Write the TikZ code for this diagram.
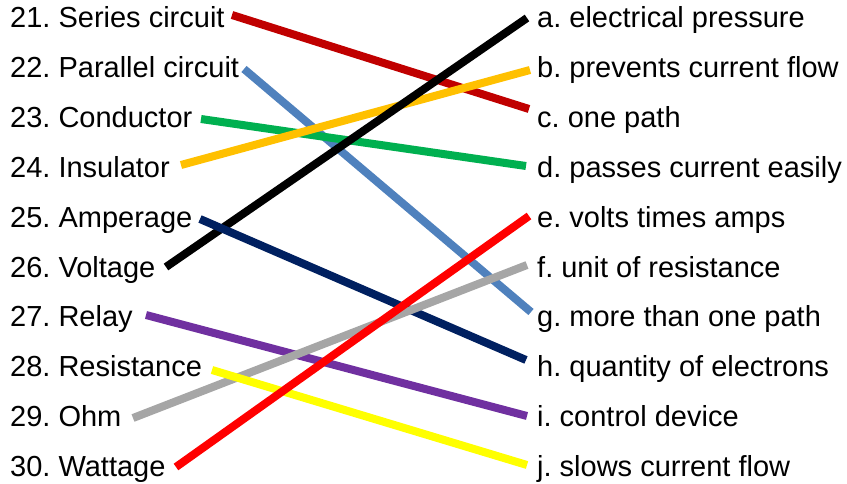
\documentclass[tikz,border=0pt]{standalone}
\usepackage{fontspec}
\setmainfont{Liberation Sans}
\frenchspacing
\begin{document}
\begin{tikzpicture}[x=1pt,y=-1pt,
  lbl/.style={anchor=base west,inner sep=0pt,font=\fontsize{29}{32}\selectfont},
  conn/.style={line width=8pt,line cap=butt}]
\definecolor{cDarkRed}{HTML}{C00000}
\definecolor{cBlue}{HTML}{4F81BD}
\definecolor{cGreen}{HTML}{00B050}
\definecolor{cOrange}{HTML}{FFC000}
\definecolor{cNavy}{HTML}{002060}
\definecolor{cPurple}{HTML}{7030A0}
\definecolor{cGray}{HTML}{A6A6A6}
\definecolor{cYellow}{HTML}{FFFF00}
\definecolor{cRed}{HTML}{FF0000}
\useasboundingbox (0,0) rectangle (847,484);
% left labels
\node[lbl] (l21) at (10,28) {21. Series circuit};
\node[lbl] (l22) at (10,77.8) {22. Parallel circuit};
\node[lbl] (l23) at (10,127.6) {23. Conductor};
\node[lbl] (l24) at (10,177.4) {24. Insulator};
\node[lbl] (l25) at (10,227.2) {25. Amperage};
\node[lbl] (l26) at (10,277) {26. Voltage};
\node[lbl] (l27) at (10,326.8) {27. Relay};
\node[lbl] (l28) at (10,376.6) {28. Resistance};
\node[lbl] (l29) at (10,426.4) {29. Ohm};
\node[lbl] (l30) at (10,476.2) {30. Wattage};
% right labels
\node[lbl] (ra) at (537,28) {a. electrical pressure};
\node[lbl] (rb) at (537,77.8) {b. prevents current flow};
\node[lbl] (rc) at (537,127.6) {c. one path};
\node[lbl] (rd) at (537,177.4) {d. passes current easily};
\node[lbl] (re) at (537,227.2) {e. volts times amps};
\node[lbl] (rf) at (537,277) {f. unit of resistance};
\node[lbl] (rg) at (537,326.8) {g. more than one path};
\node[lbl] (rh) at (537,376.6) {h. quantity of electrons};
\node[lbl] (ri) at (537,426.4) {i. control device};
\node[lbl] (rj) at (537,476.2) {j. slows current flow};
% connector end points
\coordinate (p21) at (232,15);   \coordinate (qc) at (529,109);
\coordinate (p22) at (244,69);   \coordinate (qg) at (531,312);
\coordinate (p23) at (201,119);  \coordinate (qd) at (526,166);
\coordinate (p24) at (181,165);  \coordinate (qb) at (530,70);
\coordinate (p26) at (166,267);  \coordinate (qa) at (527,18);
\coordinate (p25) at (200,219);  \coordinate (qh) at (526,360);
\coordinate (p27) at (146,315);  \coordinate (qi) at (527,416);
\coordinate (p29) at (133,418);  \coordinate (qf) at (527,265);
\coordinate (p28) at (212,370);  \coordinate (qj) at (527,465);
\coordinate (p30) at (176,467);  \coordinate (qe) at (529,216);
% connectors
\draw[conn,cDarkRed] (p21) -- (qc);
\draw[conn,cBlue] (p22) -- (qg);
\draw[conn,cGreen] (p23) -- (qd);
\draw[conn,cOrange] (p24) -- (qb);
\draw[conn,black] (p26) -- (qa);
\draw[conn,cNavy] (p25) -- (qh);
\draw[conn,cPurple] (p27) -- (qi);
\draw[conn,cGray] (p29) -- (qf);
\draw[conn,cYellow] (p28) -- (qj);
\draw[conn,cRed] (p30) -- (qe);
\end{tikzpicture}
\end{document}
